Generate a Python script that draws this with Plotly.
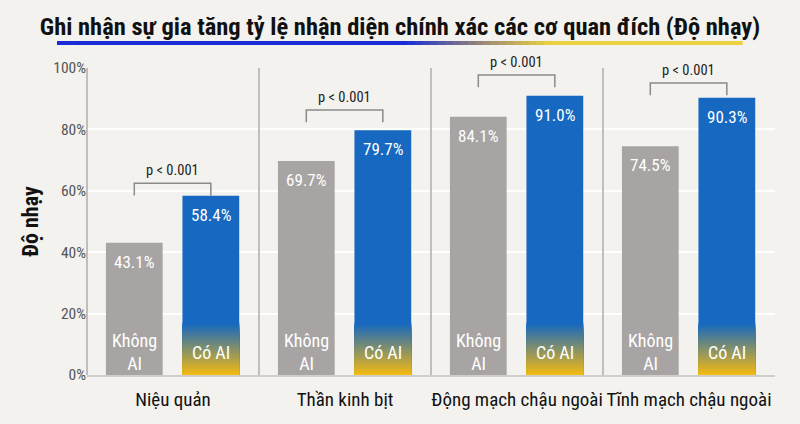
import plotly.graph_objects as go

# ---- data ----
categories = ["Niệu quản", "Thần kinh bịt", "Động mạch chậu ngoài", "Tĩnh mạch chậu ngoài"]
khong_ai = [43.1, 69.7, 84.1, 74.5]
co_ai = [58.4, 79.7, 91.0, 90.3]
p_labels = ["p < 0.001", "p < 0.001", "p < 0.001", "p < 0.001"]
bracket_y = [62.5, 86.3, 97.7, 95.1]
y_ticks = [0, 20, 40, 60, 80, 100]
y_tick_labels = ["0%", "20%", "40%", "60%", "80%", "100%"]

FONT = "Roboto Condensed, Liberation Sans Narrow, Arial Narrow, DejaVu Sans Condensed, sans-serif"
BG = "#f3f2ef"
GRAY = "#a8a4a4"
BLUE = (22, 104, 192)
YELLOW = (242, 186, 20)
BW = 0.33
OFF_G = -0.39
OFF_B = 0.055

xs = list(range(len(categories)))
fig = go.Figure()

fig.add_trace(go.Bar(x=xs, y=khong_ai, width=BW, offset=OFF_G,
                     marker=dict(color=GRAY, line=dict(width=0)), hoverinfo="skip"))
fig.add_trace(go.Bar(x=xs, y=co_ai, width=BW, offset=OFF_B,
                     marker=dict(color="rgb(%d,%d,%d)" % BLUE, line=dict(width=0)), hoverinfo="skip"))

# gradient zone at the bottom of blue bars (style only); drawn top-down, overlapping segments
N = 40
GH = 17.0
step = GH / N
for k in reversed(range(N)):
    t = k / (N - 1)
    c = tuple(int(YELLOW[i] + (BLUE[i] - YELLOW[i]) * t) for i in range(3))
    fig.add_trace(go.Bar(x=xs, y=[step * (k + 1.0)] * len(xs), base=[0] * len(xs),
                         width=BW, offset=OFF_B,
                         marker=dict(color="rgb(%d,%d,%d)" % c, line=dict(width=0)),
                         hoverinfo="skip"))

annotations = []
shapes = []
for i, cat in enumerate(categories):
    xg = i + OFF_G + BW / 2
    xb = i + OFF_B + BW / 2
    annotations.append(dict(x=xg, y=khong_ai[i], text=f"{khong_ai[i]:.1f}%", showarrow=False,
                            yanchor="top", yshift=-7, font=dict(family=FONT, size=17, color="white")))
    annotations.append(dict(x=xb, y=co_ai[i], text=f"{co_ai[i]:.1f}%", showarrow=False,
                            yanchor="top", yshift=-7, font=dict(family=FONT, size=17, color="white")))
    annotations.append(dict(x=xg, y=0, text="Không<br>AI", showarrow=False, yanchor="bottom",
                            yshift=-1, font=dict(family=FONT, size=18, color="white")))
    annotations.append(dict(x=xb, y=0, text="Có AI", showarrow=False, yanchor="bottom",
                            yshift=10, font=dict(family=FONT, size=18, color="white")))
    by = bracket_y[i]
    shapes.append(dict(type="path", xref="x", yref="y",
                       path=f"M {xg},{by-4} L {xg},{by} L {xb},{by} L {xb},{by-4}",
                       line=dict(color="#8a8a8a", width=1.5)))
    annotations.append(dict(x=(xg + xb) / 2, y=by, text=p_labels[i], showarrow=False,
                            yanchor="bottom", yshift=2, font=dict(family=FONT, size=14.5, color="#222")))
    if i > 0:
        shapes.append(dict(type="line", xref="x", yref="paper", x0=i - 0.5, x1=i - 0.5, y0=0, y1=1,
                           line=dict(color="#b0aeac", width=1.5)))

shapes.append(dict(type="line", xref="paper", yref="paper", x0=0, x1=0, y0=0, y1=1,
                   line=dict(color="#b0aeac", width=1.5)))

# title underline gradient (style only)
x0p, x1p = (57 - 87) / 688, (742 - 87) / 688
ypl = (375 - 43) / 307
ULB = (26, 44, 214)
ULM = (150, 135, 120)
ULY = (236, 210, 64)
M = 90
for k in range(M):
    t = (k + 0.5) / M
    px = 57 + (742 - 57) * t
    if px < 405:
        c = ULB
    elif px < 480:
        s = (px - 405) / 75
        c = tuple(int(ULB[j] + (ULM[j] - ULB[j]) * s) for j in range(3))
    elif px < 550:
        s = (px - 480) / 70
        c = tuple(int(ULM[j] + (ULY[j] - ULM[j]) * s) for j in range(3))
    else:
        c = ULY
    xa = x0p + (x1p - x0p) * k / M
    xe = x0p + (x1p - x0p) * (k + 1) / M
    shapes.append(dict(type="line", xref="paper", yref="paper", x0=xa, x1=xe + 0.001, y0=ypl, y1=ypl,
                       line=dict(color="rgb(%d,%d,%d)" % c, width=4)))

fig.update_layout(
    width=800, height=424,
    margin=dict(l=87, r=25, t=68, b=49, autoexpand=False),
    paper_bgcolor=BG, plot_bgcolor=BG,
    barmode="overlay", showlegend=False,
    title=dict(text="<b>Ghi nhận sự gia tăng tỷ lệ nhận diện chính xác các cơ quan đích (Độ nhạy)</b>",
               x=0.5, xanchor="center", y=0.937, yanchor="middle",
               font=dict(family=FONT, size=24.5, color="#111")),
    annotations=annotations, shapes=shapes,
    xaxis=dict(tickvals=xs, ticktext=categories, range=[-0.5, 3.5], showgrid=False, zeroline=False,
               showline=True, linecolor="#d0cecb", linewidth=1.5, ticks="", tickangle=0,
               automargin=False, ticklabelstandoff=6,
               tickfont=dict(family=FONT, size=19, color="#111")),
    yaxis=dict(range=[0, 100], tickvals=y_ticks, ticktext=y_tick_labels, showgrid=True,
               gridcolor="#ffffff", gridwidth=1.5, zeroline=False, ticks="", automargin=False,
               tickfont=dict(family=FONT, size=15.5, color="#555"),
               title=dict(text="<b>Độ nhạy</b>", standoff=8, font=dict(family=FONT, size=22, color="#111"))),
)

fig.write_html("out.html", config={"displayModeBar": False},
               post_script="document.body.style.margin='0';document.body.style.background='%s';" % BG)
